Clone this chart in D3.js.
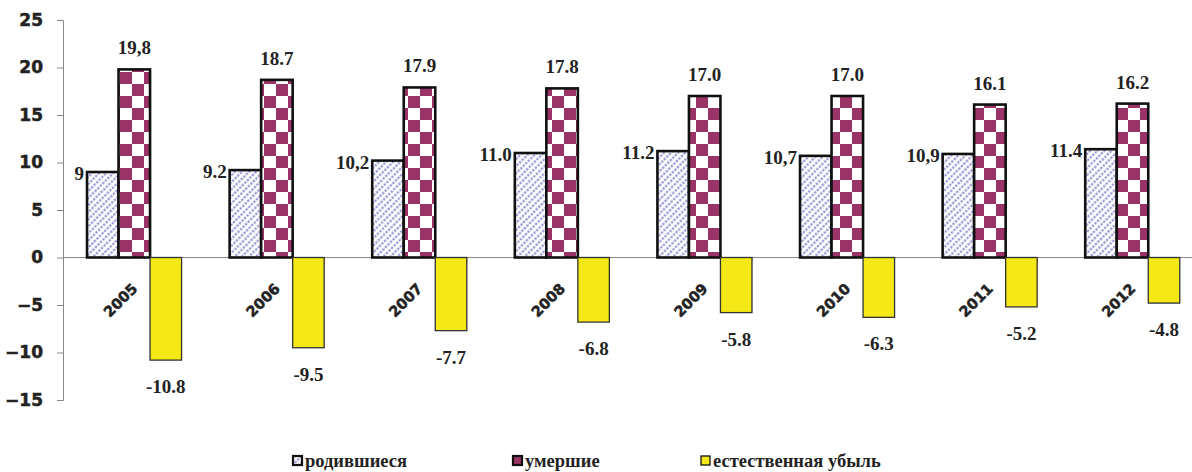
<!DOCTYPE html>
<html>
<head>
<meta charset="utf-8">
<script src="https://cdn.jsdelivr.net/npm/d3@7"></script>
<style>
  body { margin: 0; background: #fff; }
  svg { display: block; }
  .ytick text { font-family: "DejaVu Sans", sans-serif; font-weight: bold; font-size: 17px; fill: #222; stroke: #222; stroke-width: 0.5px; }
  .xlab { font-family: "DejaVu Sans", sans-serif; font-weight: bold; font-size: 14.5px; fill: #222; stroke: #222; stroke-width: 0.5px; }
  .val { font-family: "Liberation Serif", serif; font-weight: bold; font-size: 19px; fill: #222; }
  .leg { font-family: "Liberation Serif", serif; font-weight: bold; font-size: 18.5px; fill: #222; }
</style>
</head>
<body>
<svg id="chart"></svg>
<script>
// years and the three series (per 1000 population)
let years = ['2005', '2006', '2007', '2008', '2009', '2010', '2011', '2012'];
let births = [9, 9.2, 10.2, 11.0, 11.2, 10.7, 10.9, 11.4];
let deaths = [19.8, 18.7, 17.9, 17.8, 17.0, 17.0, 16.1, 16.2];
let decline = [-10.8, -9.5, -7.7, -6.8, -5.8, -6.3, -5.2, -4.8];

// label texts as printed (mixed comma / dot like the original)
let birthLabels = ['9', '9.2', '10,2', '11.0', '11.2', '10,7', '10,9', '11.4'];
let deathLabels = ['19,8', '18.7', '17.9', '17.8', '17.0', '17.0', '16.1', '16.2'];
let declineLabels = ['-10.8', '-9.5', '-7.7', '-6.8', '-5.8', '-6.3', '-5.2', '-4.8'];

let seriesNames = ['родившиеся', 'умершие', 'естественная убыль'];
let yTicks = [-15, -10, -5, 0, 5, 10, 15, 20, 25];

function makeChart() {
  let w = 1192;
  let h = 472;

  let svg = d3.select('#chart')
    .attr('width', w)
    .attr('height', h);

  // patterns: dotted diagonal hatch, checkerboard
  let defs = svg.append('defs');

  let hatch = defs.append('pattern')
    .attr('id', 'hatch')
    .attr('patternUnits', 'userSpaceOnUse')
    .attr('width', 7.2)
    .attr('height', 5)
    .attr('patternTransform', 'rotate(-45)');
  hatch.append('rect')
    .attr('width', 7.2).attr('height', 5).attr('fill', '#fff');
  hatch.append('line')
    .attr('x1', 0).attr('x2', 7.2)
    .attr('y1', 2.5).attr('y2', 2.5)
    .attr('stroke', '#8c8cd0')
    .attr('stroke-width', 1.9)
    .attr('stroke-dasharray', '2.4,1.2');

  let checker = defs.append('pattern')
    .attr('id', 'checker')
    .attr('patternUnits', 'userSpaceOnUse')
    .attr('width', 24)
    .attr('height', 24);
  checker.append('rect')
    .attr('width', 24).attr('height', 24).attr('fill', '#fff');
  checker.append('rect')
    .attr('width', 12).attr('height', 12).attr('fill', '#9b3366');
  checker.append('rect')
    .attr('x', 12).attr('y', 12)
    .attr('width', 12).attr('height', 12).attr('fill', '#9b3366');

  let left = 63;
  let step = 142.6;

  let xScale = d3.scaleBand()
    .domain(years)
    .range([left, left + step * years.length])
    .paddingInner(0.337)
    .paddingOuter(0.1685);

  let xInner = d3.scaleBand()
    .domain([0, 1, 2])
    .range([0, xScale.bandwidth()]);

  let yScale = d3.scaleLinear()
    .domain([-15, 25])
    .range([400, 20]);

  let fills = ['url(#hatch)', 'url(#checker)', '#f4e916'];
  let series = [births, deaths, decline];

  // AXES
  let yAxis = svg.append('g')
    .attr('class', 'ytick')
    .attr('transform', `translate(${left}, 0)`)
    .call(d3.axisLeft(yScale).tickValues(yTicks).tickSize(6).tickPadding(14));
  yAxis.selectAll('line, path').attr('stroke', '#888');

  // zero line with category ticks
  svg.append('line')
    .attr('x1', left).attr('x2', w)
    .attr('y1', yScale(0)).attr('y2', yScale(0))
    .attr('stroke', '#888');

  svg.selectAll('.ztick')
    .data(years.slice(1))
    .enter()
    .append('line')
    .attr('class', 'ztick')
    .attr('x1', (d) => xScale(d) - xScale.step() * 0.1685 * 2)
    .attr('x2', (d) => xScale(d) - xScale.step() * 0.1685 * 2)
    .attr('y1', yScale(0))
    .attr('y2', yScale(0) + 5)
    .attr('stroke', '#888');

  // BARS
  series.forEach((vals, s) => {
    svg.selectAll('.bar' + s)
      .data(vals)
      .enter()
      .append('rect')
      .attr('class', 'bar' + s)
      .attr('x', (d, i) => xScale(years[i]) + xInner(s))
      .attr('y', (d) => yScale(Math.max(0, d)))
      .attr('width', xInner.bandwidth())
      .attr('height', (d) => Math.abs(yScale(d) - yScale(0)))
      .attr('fill', fills[s])
      .attr('stroke', s == 2 ? '#333' : '#111')
      .attr('stroke-width', s == 2 ? 1.3 : 2.6);
  });

  // x labels, rotated
  svg.selectAll('.xlab')
    .data(years)
    .enter()
    .append('text')
    .attr('class', 'xlab')
    .attr('text-anchor', 'end')
    .attr('transform', (d) => `translate(${xScale(d) + xScale.bandwidth() / 2 + 4}, ${yScale(0) + 32}) rotate(-45)`)
    .text((d) => d);

  // VALUE LABELS
  svg.selectAll('.vb')
    .data(births)
    .enter()
    .append('text')
    .attr('class', 'val')
    .attr('text-anchor', 'end')
    .attr('x', (d, i) => xScale(years[i]) + xInner(0) - 3)
    .attr('y', (d) => yScale(d) + 8)
    .text((d, i) => birthLabels[i]);

  svg.selectAll('.vd')
    .data(deaths)
    .enter()
    .append('text')
    .attr('class', 'val')
    .attr('text-anchor', 'middle')
    .attr('x', (d, i) => xScale(years[i]) + xInner(1) + xInner.bandwidth() / 2)
    .attr('y', (d) => yScale(d) - 15)
    .text((d, i) => deathLabels[i]);

  svg.selectAll('.vn')
    .data(decline)
    .enter()
    .append('text')
    .attr('class', 'val')
    .attr('text-anchor', 'middle')
    .attr('x', (d, i) => xScale(years[i]) + xInner(2) + xInner.bandwidth() / 2)
    .attr('y', (d) => yScale(d) + 33)
    .text((d, i) => declineLabels[i]);

  // LEGEND
  let legX = [292, 512, 700];
  let leg = svg.selectAll('.legitem')
    .data(seriesNames)
    .enter()
    .append('g')
    .attr('class', 'legitem')
    .attr('transform', (d, i) => `translate(${legX[i]}, 455)`);

  leg.append('rect')
    .attr('x', 1).attr('y', 1)
    .attr('width', 9).attr('height', 9)
    .attr('fill', (d, i) => fills[i])
    .attr('stroke', '#111')
    .attr('stroke-width', (d, i) => i == 2 ? 1.3 : 2.2);

  leg.append('text')
    .attr('class', 'leg')
    .attr('x', 13)
    .attr('y', 12)
    .text((d) => d);
}

window.onload = function () {
  makeChart();
}
</script>
</body>
</html>
